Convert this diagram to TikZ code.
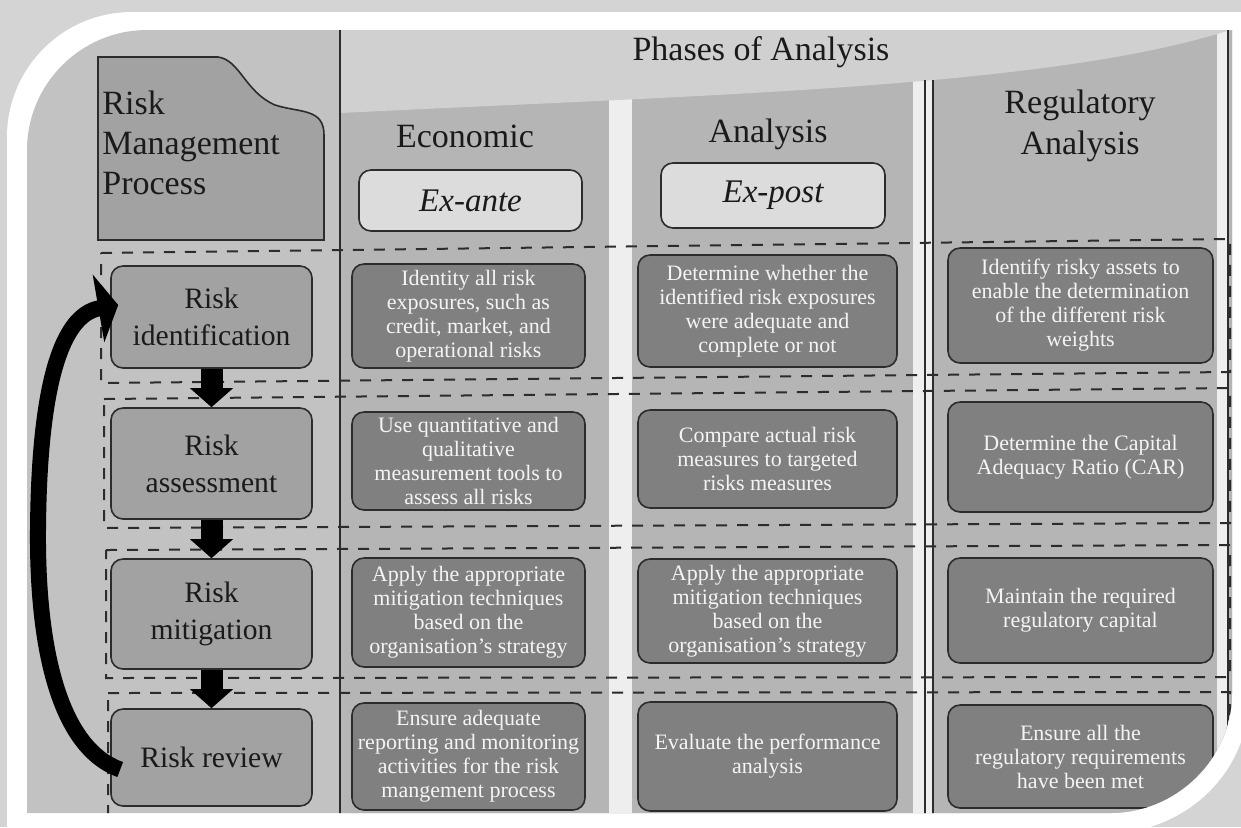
\documentclass[tikz,border=0pt]{standalone}
\usepackage{fontspec}
\setmainfont{Liberation Serif}
\usetikzlibrary{arrows.meta}
\definecolor{framegray}{HTML}{D4D4D4}
\definecolor{photobg}{HTML}{C2C2C2}
\definecolor{headlight}{HTML}{D0D0D0}
\definecolor{panel}{HTML}{B5B5B5}
\definecolor{procfill}{HTML}{A2A2A2}
\definecolor{darkfill}{HTML}{808080}
\definecolor{exfill}{HTML}{DCDCDC}
\definecolor{stripw}{HTML}{EEEEEE}
\definecolor{ink}{HTML}{1A1A1A}
\definecolor{lineink}{HTML}{2C2C2C}
\definecolor{paletext}{HTML}{F4F4F4}
\begin{document}
\begin{tikzpicture}[x=0.5pt,y=-0.5pt,
  procbox/.style={draw=lineink, line width=0.8pt, fill=procfill, rounded corners=6pt, align=center, text=ink, font=\fontsize{14.8}{18.5}\selectfont, inner sep=0pt},
  darkbox/.style={draw=lineink, line width=0.8pt, fill=darkfill, rounded corners=6pt, align=center, text=paletext, font=\fontsize{11}{12}\selectfont, inner sep=0pt},
  exbox/.style={draw=lineink, line width=0.8pt, fill=exfill, rounded corners=6pt, align=center, text=ink, font=\fontsize{16.5}{19}\selectfont\itshape, inner sep=0pt},
  coltitle/.style={text=ink, font=\fontsize{17}{20.5}\selectfont, align=center, inner sep=0pt},
  rowline/.style={draw=lineink, line width=1pt, dash pattern=on 5.5pt off 5pt},
  downarrow/.style={draw=black, line width=11pt, -{Triangle[width=21pt,length=9.5pt]}},
  looparrow/.style={draw=black, line width=8pt, -{Triangle[width=34pt,length=10pt]}},
]
\useasboundingbox (0,0) rectangle (1241,827);
% frame
\fill[framegray] (0,0) rectangle (1241,827);
\fill[white] (7,137) .. controls (7,68) and (63,12) .. (132,12) -- (1241,12) -- (1241,742) .. controls (1226,783) and (1192,814) .. (1150,827) -- (7,827) -- cycle;
\begin{scope}
\clip (27,150) .. controls (27,84) and (81,30) .. (147,30) -- (1232,30) -- (1232,693) .. controls (1232,759) and (1176,813) .. (1110,813) -- (27,813) -- cycle;
\fill[photobg] (0,0) rectangle (1241,827);
% analysis panels
\fill[panel] (341,30) rectangle (1241,827);
\fill[stripw] (609,30) rectangle (632,827);
\fill[stripw] (913,30) rectangle (933,827);
\fill[stripw] (1217,30) rectangle (1227,827);
\fill[headlight] (341,0) -- (1241,0) -- (1241,30) -- (1230,30) .. controls (1050,88) and (700,95) .. (341,113) -- cycle;
% vertical lines
\draw[lineink, line width=1pt] (340,0) -- (340,827);
\draw[lineink, line width=0.8pt] (925,80) -- (925,827);
\draw[lineink, line width=0.8pt] (933,80) -- (933,827);
\draw[lineink, line width=0.8pt] (1228,0) -- (1228,827);
% row frames
\draw[rowline] (101,253) -- (1230,239) -- (1230,372) -- (101,383) -- cycle;
\draw[rowline] (104,399) -- (1230,388) -- (1230,523) -- (104,528) -- cycle;
\draw[rowline] (106,550) -- (1230,545) -- (1230,677) -- (106,678) -- cycle;
\draw[rowline] (108,693) -- (1230,692) -- (1230,850) -- (108,850) -- cycle;
% header box
\draw[draw=lineink, line width=0.8pt, fill=procfill] (98,57) -- (218,57) .. controls (240,60) and (245,92) .. (275,105) .. controls (300,113) and (324,108) .. (324,135) -- (324,240) -- (98,240) -- cycle;
\node[anchor=north west, align=left, text=ink, font=\fontsize{17}{20}\selectfont, inner sep=0pt] (rmp) at (102,90) {Risk\\Management\\Process};
% titles
\node[coltitle, anchor=base] (phases) at (761,60) {Phases of Analysis};
\node[coltitle, anchor=base] (econ) at (465,147) {Economic};
\node[coltitle, anchor=base] (anal) at (768,142) {Analysis};
\node[coltitle, anchor=north] (regu) at (1080,89) {Regulatory\\Analysis};
\node[exbox, minimum width=111.5pt, minimum height=30.5pt] (exante) at (470.5,200.5) {Ex-ante};
\node[exbox, minimum width=112pt, minimum height=32.5pt] (expost) at (773,195.5) {Ex-post};
% process boxes
\node[procbox, minimum width=100.5pt, minimum height=51pt] (ri) at (211.5,317) {Risk\\identification};
\node[procbox, minimum width=100.5pt, minimum height=55.5pt] (ra) at (211.5,463.5) {Risk\\assessment};
\node[procbox, minimum width=100.5pt, minimum height=55pt] (rm) at (211.5,614) {Risk\\mitigation};
\node[procbox, minimum width=100.5pt, minimum height=48.5pt] (rv) at (211.5,757.5) {Risk review};
% economic column
\node[darkbox, minimum width=116.5pt, minimum height=52pt] (e1) at (468.5,316) {Identity all risk\\exposures, such as\\credit, market, and\\operational risks};
\node[darkbox, minimum width=116.5pt, minimum height=49pt] (e2) at (468.5,461) {Use quantitative and\\qualitative\\measurement tools to\\assess all risks};
\node[darkbox, minimum width=116.5pt, minimum height=54.5pt] (e3) at (468.5,612.5) {Apply the appropriate\\mitigation techniques\\based on the\\organisation’s strategy};
\node[darkbox, minimum width=116.5pt, minimum height=53.5pt] (e4) at (468.5,756.5) {Ensure adequate\\reporting and monitoring\\activities for the risk\\mangement process};
% analysis column
\node[darkbox, minimum width=129.5pt, minimum height=56pt] (a1) at (767.5,311) {Determine whether the\\identified risk exposures\\were adequate and\\complete or not};
\node[darkbox, minimum width=129.5pt, minimum height=49pt] (a2) at (767.5,459) {Compare actual risk\\measures to targeted\\risks measures};
\node[darkbox, minimum width=129.5pt, minimum height=52pt] (a3) at (767.5,611) {Apply the appropriate\\mitigation techniques\\based on the\\organisation’s strategy};
\node[darkbox, minimum width=129.5pt, minimum height=54.5pt] (a4) at (767.5,756.5) {Evaluate the performance\\analysis};
% regulatory column
\node[darkbox, minimum width=132.5pt, minimum height=57.5pt] (g1) at (1080.5,305.5) {Identify risky assets to\\enable the determination\\of the different risk\\weights};
\node[darkbox, minimum width=132.5pt, minimum height=55pt] (g2) at (1080.5,457) {Determine the Capital\\Adequacy Ratio (CAR)};
\node[darkbox, minimum width=132.5pt, minimum height=52.5pt] (g3) at (1080.5,610.5) {Maintain the required\\regulatory capital};
\node[darkbox, minimum width=132.5pt, minimum height=51.5pt] (g4) at (1080.5,756.5) {Ensure all the\\regulatory requirements\\have been met};
% arrows
\draw[downarrow] (ri.south) -- (ra.north);
\draw[downarrow] (ra.south) -- (rm.north);
\draw[downarrow] (rm.south) -- (rv.north);
\draw[looparrow] ([shift={(10,12)}]rv.west) .. controls (60,748) and (37,650) .. (38,530) .. controls (39,390) and (60,315) .. ([shift={(8,-12)}]ri.west);
\end{scope}
\end{tikzpicture}
\end{document}
